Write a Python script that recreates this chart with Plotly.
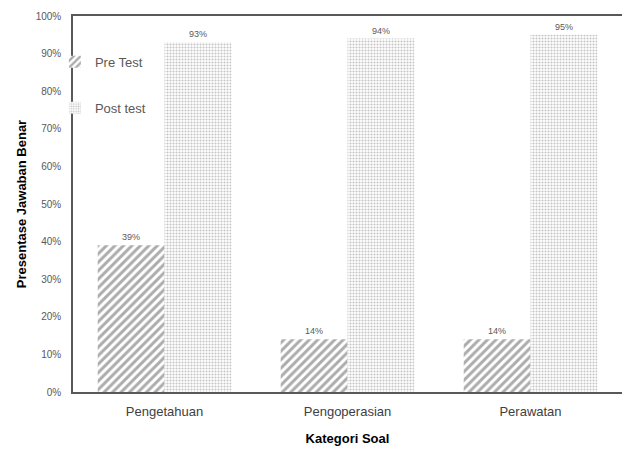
import plotly.graph_objects as go

categories = ["Pengetahuan", "Pengoperasian", "Perawatan"]
pre_test = [39, 14, 14]
post_test = [93, 94, 95]
y_ticks = list(range(0, 101, 10))
y_tick_labels = [f"{v}%" for v in y_ticks]

FONT = "Liberation Sans, Arial, sans-serif"

fig = go.Figure()
fig.add_trace(go.Bar(
    name="Pre Test", x=categories, y=pre_test, legendgroup="pre",
    text=[f"{v}%" for v in pre_test], textposition="outside",
    textfont=dict(size=9, color="#595959", family=FONT),
    marker=dict(color="white", line=dict(width=0),
                pattern=dict(shape="/", fgcolor="#5a5a5a", bgcolor="white",
                             size=6, solidity=0.5)),
    cliponaxis=False,
))
fig.add_trace(go.Bar(
    name="Post test", x=categories, y=post_test, legendgroup="post",
    text=[f"{v}%" for v in post_test], textposition="outside",
    textfont=dict(size=9, color="#595959", family=FONT),
    marker=dict(color="white", line=dict(width=0),
                pattern=dict(shape=".", fgcolor="#8a8a8a", bgcolor="white",
                             size=3, solidity=0.4)),
    cliponaxis=False,
))

fig.update_layout(
    width=622, height=450,
    margin=dict(l=73, r=0, t=16, b=58, autoexpand=False),
    paper_bgcolor="white", plot_bgcolor="white",
    barmode="group", bargap=0.27, bargroupgap=0,
    font=dict(family=FONT, color="#595959"),
    showlegend=True,
    legend=dict(x=-0.033, y=0.918, xanchor="left", yanchor="top",
                bgcolor="rgba(0,0,0,0)", tracegroupgap=26, itemwidth=30,
                font=dict(size=13, color="#595959", family=FONT),
                traceorder="grouped"),
    xaxis=dict(
        showline=True, linecolor="#595959", linewidth=1.5, mirror=True,
        ticks="", tickfont=dict(size=13, color="#404040", family=FONT),
        ticklabelstandoff=7,
        title=dict(text="<b>Kategori Soal</b>", font=dict(size=13, color="black", family=FONT), standoff=16),
        showgrid=False, automargin=False,
    ),
    yaxis=dict(
        range=[0, 100], tickvals=y_ticks, ticktext=y_tick_labels,
        showline=True, linecolor="#595959", linewidth=1.5, mirror=False,
        ticks="", showgrid=False, zeroline=False,
        tickfont=dict(size=10, color="#595959", family=FONT),
        ticklabelstandoff=8, automargin=False,
        title=dict(text="<b>Presentase Jawaban Benar</b>", font=dict(size=13, color="black", family=FONT), standoff=6),
    ),
)

post = ("document.documentElement.style.margin='0';document.body.style.margin='0';"
        "document.body.style.overflow='hidden';"
        "Plotly.relayout('{plot_id}', {width: 622, height: 450});")
fig.write_html("out.html", post_script=post, config={"displayModeBar": False})
